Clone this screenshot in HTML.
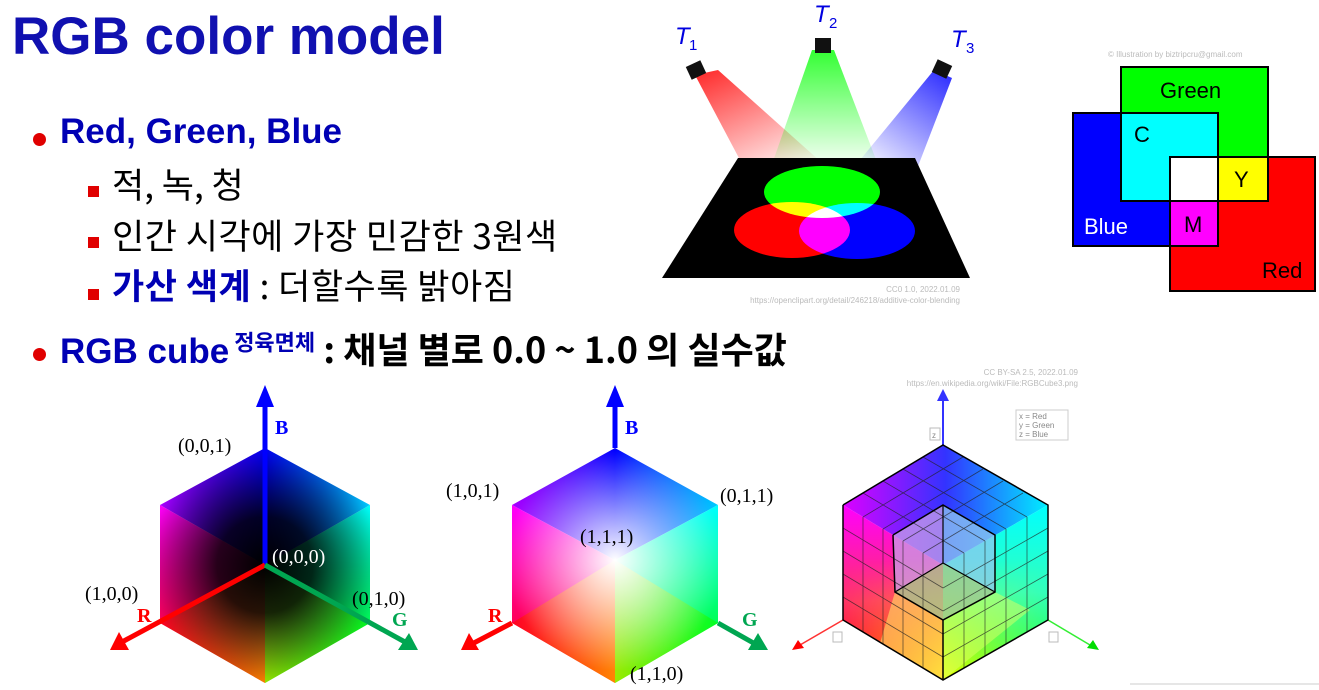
<!DOCTYPE html>
<html><head><meta charset="utf-8">
<style>
html,body{margin:0;padding:0;background:#fff;}
body{width:1319px;height:690px;position:relative;overflow:hidden;font-family:"Liberation Sans","Noto Sans CJK KR",sans-serif;}
.t{position:absolute;white-space:nowrap;}
.blue{color:#0000b4;font-weight:bold;}
.dot{position:absolute;width:13px;height:13px;border-radius:50%;background:#e00000;}
.sq{position:absolute;width:11px;height:11px;background:#e00000;}
.ko{font-family:"Noto Sans CJK KR",sans-serif;}
</style></head>
<body>
<div class="t blue" style="left:12px;top:6px;font-size:53px;color:#1010b0;">RGB color model</div>

<div class="dot" style="left:33px;top:133px"></div>
<div class="t blue" style="left:60px;top:112px;font-size:35px;">Red, Green, Blue</div>
<div class="sq" style="left:88px;top:186px"></div>
<div class="t ko" style="left:112px;top:158px;font-size:35px;">적, 녹, 청</div>
<div class="sq" style="left:88px;top:237px"></div>
<div class="t ko" style="left:112px;top:209px;font-size:35px;letter-spacing:0.5px;">인간 시각에 가장 민감한 3원색</div>
<div class="sq" style="left:88px;top:289px"></div>
<div class="t ko" style="left:112px;top:259px;font-size:35px;letter-spacing:0.5px;"><b style="color:#0000b4">가산 색계</b> : 더할수록 밝아짐</div>

<div class="dot" style="left:33px;top:348px"></div>
<div class="t" style="left:60px;top:322px;font-size:35px;font-weight:bold;"><span style="color:#0000b4">RGB cube</span><sup class="ko" style="color:#0000b4;font-size:22px;"> 정육면체</sup><span class="ko" style="font-size:36px;"> : 채널 별로 0.0 ~ 1.0 의 실수값</span></div>

<svg width="1319" height="690" style="position:absolute;left:0;top:0">
<defs>
 <linearGradient id="bR" x1="0" y1="0" x2="0.5" y2="1"><stop offset="0" stop-color="#f00"/><stop offset="1" stop-color="#f00" stop-opacity="0"/></linearGradient>
 <linearGradient id="bG" x1="0" y1="0" x2="0" y2="1"><stop offset="0" stop-color="#0f0"/><stop offset="1" stop-color="#0f0" stop-opacity="0"/></linearGradient>
 <linearGradient id="bB" x1="1" y1="0" x2="0.5" y2="1"><stop offset="0" stop-color="#00f"/><stop offset="1" stop-color="#00f" stop-opacity="0"/></linearGradient>
 <linearGradient id="c1top" x1="0" y1="0" x2="1" y2="0"><stop offset="0" stop-color="#a0f"/><stop offset="0.5" stop-color="#00f"/><stop offset="1" stop-color="#0cf"/></linearGradient>
 <radialGradient id="dark" cx="265" cy="565" r="120" gradientUnits="userSpaceOnUse"><stop offset="0" stop-color="#000"/><stop offset="0.4" stop-color="#000" stop-opacity="0.85"/><stop offset="1" stop-color="#000" stop-opacity="0"/></radialGradient>
 <linearGradient id="c1l" x1="0" y1="0" x2="0" y2="1"><stop offset="0" stop-color="#f0f"/><stop offset="1" stop-color="#f00"/></linearGradient>
 <linearGradient id="c1r" x1="0" y1="0" x2="0" y2="1"><stop offset="0" stop-color="#0ff"/><stop offset="1" stop-color="#0f0"/></linearGradient>
 <linearGradient id="c1b" x1="0" y1="0" x2="1" y2="0"><stop offset="0" stop-color="#f00"/><stop offset="0.5" stop-color="#fd0"/><stop offset="1" stop-color="#0f0"/></linearGradient>
 <radialGradient id="white" cx="615" cy="560" r="110" gradientUnits="userSpaceOnUse"><stop offset="0" stop-color="#fff"/><stop offset="0.3" stop-color="#fff" stop-opacity="0.7"/><stop offset="1" stop-color="#fff" stop-opacity="0"/></radialGradient>
 <linearGradient id="c3l" x1="0" y1="0" x2="0" y2="1"><stop offset="0" stop-color="#f0f"/><stop offset="0.55" stop-color="#f36"/><stop offset="1" stop-color="#f00"/></linearGradient>
 <linearGradient id="c3ly" x1="843" y1="0" x2="943" y2="0" gradientUnits="userSpaceOnUse"><stop offset="0" stop-color="#ff0" stop-opacity="0"/><stop offset="1" stop-color="#ff0" stop-opacity="1"/></linearGradient>
 <linearGradient id="c3r" x1="0" y1="0" x2="0" y2="1"><stop offset="0" stop-color="#0ff"/><stop offset="0.5" stop-color="#3fb"/><stop offset="1" stop-color="#2f2"/></linearGradient>
 <linearGradient id="c3ry" x1="943" y1="0" x2="1048" y2="0" gradientUnits="userSpaceOnUse"><stop offset="0" stop-color="#ff0" stop-opacity="1"/><stop offset="1" stop-color="#ff0" stop-opacity="0"/></linearGradient>
 <linearGradient id="c3t" x1="0" y1="0" x2="1" y2="0"><stop offset="0" stop-color="#d0f"/><stop offset="0.5" stop-color="#33f"/><stop offset="1" stop-color="#0ef"/></linearGradient>
 <linearGradient id="vy" x1="0" y1="0" x2="0" y2="1"><stop offset="0" stop-color="#fff" stop-opacity="0"/><stop offset="1" stop-color="#fff" stop-opacity="1"/></linearGradient>
 <mask id="lowmask"><rect x="800" y="560" width="300" height="130" fill="url(#vy)"/></mask>
</defs>

<!-- spotlights -->
<g>
 <polygon points="695,75 718,70 830,170 760,190 740,160" fill="url(#bR)" opacity="0.85"/>
 <polygon points="812,50 834,50 880,170 770,170" fill="url(#bG)" opacity="0.8"/>
 <polygon points="934,70 952,78 905,200 860,160" fill="url(#bB)" opacity="0.85"/>
 <polygon points="738,158 915,158 970,278 662,278" fill="#000"/>
 <g style="isolation:isolate">
  <ellipse cx="822" cy="192" rx="58" ry="26" fill="#0f0" style="mix-blend-mode:screen"/>
  <ellipse cx="792" cy="230" rx="58" ry="28" fill="#f00" style="mix-blend-mode:screen"/>
  <ellipse cx="857" cy="231" rx="58" ry="28" fill="#00f" style="mix-blend-mode:screen"/>
 </g>
 <rect x="688" y="63" width="16" height="14" fill="#111" transform="rotate(-25 696 70)"/>
 <rect x="815" y="38" width="16" height="15" fill="#111"/>
 <rect x="934" y="62" width="16" height="14" fill="#111" transform="rotate(25 942 69)"/>
 <text x="675" y="44" font-size="24" font-style="italic" fill="#0000e0" font-family="Liberation Sans,sans-serif">T</text><text x="689" y="50" font-size="15" fill="#0000e0">1</text>
 <text x="814" y="22" font-size="24" font-style="italic" fill="#0000e0" font-family="Liberation Sans,sans-serif">T</text><text x="829" y="28" font-size="15" fill="#0000e0">2</text>
 <text x="951" y="47" font-size="24" font-style="italic" fill="#0000e0" font-family="Liberation Sans,sans-serif">T</text><text x="966" y="53" font-size="15" fill="#0000e0">3</text>
 <text x="960" y="292" font-size="8" fill="#bbb" text-anchor="end">CC0 1.0, 2022.01.09</text>
 <text x="960" y="303" font-size="8" fill="#bbb" text-anchor="end">https://openclipart.org/detail/246218/additive-color-blending</text>
</g>

<!-- venn squares -->
<g stroke="#000" stroke-width="2">
 <text x="1108" y="57" font-size="8" fill="#bbb" stroke="none">© Illustration by biztripcru@gmail.com</text>
 <rect x="1121" y="67" width="147" height="134" fill="#0f0"/>
 <rect x="1073" y="113" width="145" height="133" fill="#00f"/>
 <rect x="1170" y="157" width="145" height="134" fill="#f00"/>
 <rect x="1121" y="113" width="97" height="88" fill="#0ff"/>
 <rect x="1170" y="157" width="48" height="44" fill="#fff"/>
 <rect x="1218" y="157" width="50" height="44" fill="#ff0"/>
 <rect x="1170" y="201" width="48" height="45" fill="#f0f"/>
 <g stroke="none" font-size="22" font-family="Liberation Sans,sans-serif">
  <text x="1160" y="98">Green</text>
  <text x="1134" y="142">C</text>
  <text x="1234" y="187">Y</text>
  <text x="1184" y="232">M</text>
  <text x="1084" y="234" fill="#fff">Blue</text>
  <text x="1262" y="278">Red</text>
 </g>
</g>

<!-- cube 1 -->
<g>
 <polygon points="265,448 370,505 265,565 160,505" fill="url(#c1top)"/>
 <polygon points="160,505 265,565 265,683 160,623" fill="url(#c1l)"/>
 <polygon points="265,565 370,505 370,623 265,683" fill="url(#c1r)"/>
 <polygon points="160,623 265,565 370,623 265,683" fill="url(#c1b)" opacity="0.6"/>
 <polygon points="265,448 370,505 370,623 265,683 160,623 160,505" fill="url(#dark)"/>
 <line x1="265" y1="565" x2="265" y2="405" stroke="#00f" stroke-width="5"/>
 <polygon points="265,385 256,407 274,407" fill="#00f"/>
 <line x1="265" y1="565" x2="122" y2="642" stroke="#f00" stroke-width="5"/>
 <polygon points="110,650 119,632 129,650" fill="#f00"/>
 <line x1="265" y1="565" x2="405" y2="642" stroke="#00a651" stroke-width="5"/>
 <polygon points="418,650 398,650 409,633" fill="#00a651"/>
 <g font-family="Liberation Serif,serif" font-size="20">
  <text x="178" y="452">(0,0,1)</text>
  <text x="272" y="563" fill="#fff">(0,0,0)</text>
  <text x="85" y="600">(1,0,0)</text>
  <text x="352" y="605">(0,1,0)</text>
  <text x="275" y="434" fill="#00f" font-weight="bold">B</text>
  <text x="137" y="622" fill="#f00" font-weight="bold">R</text>
  <text x="392" y="626" fill="#00a651" font-weight="bold">G</text>
 </g>
</g>

<!-- cube 2 -->
<g>
 <polygon points="615,448 718,505 615,560 512,505" fill="url(#c1top)"/>
 <polygon points="512,505 615,560 615,683 512,623" fill="url(#c1l)"/>
 <polygon points="615,560 718,505 718,623 615,683" fill="url(#c1r)"/>
 <polygon points="512,623 615,560 718,623 615,683" fill="url(#c1b)" opacity="0.6"/>
 <polygon points="615,448 718,505 718,623 615,683 512,623 512,505" fill="url(#white)"/>
 <line x1="615" y1="448" x2="615" y2="405" stroke="#00f" stroke-width="5"/>
 <polygon points="615,385 606,407 624,407" fill="#00f"/>
 <line x1="512" y1="623" x2="470" y2="645" stroke="#f00" stroke-width="5"/>
 <polygon points="461,650 469,633 479,650" fill="#f00"/>
 <line x1="718" y1="623" x2="757" y2="645" stroke="#00a651" stroke-width="5"/>
 <polygon points="768,650 748,650 758,633" fill="#00a651"/>
 <g font-family="Liberation Serif,serif" font-size="20">
  <text x="446" y="497">(1,0,1)</text>
  <text x="720" y="502">(0,1,1)</text>
  <text x="580" y="543">(1,1,1)</text>
  <text x="630" y="680">(1,1,0)</text>
  <text x="625" y="434" fill="#00f" font-weight="bold">B</text>
  <text x="488" y="622" fill="#f00" font-weight="bold">R</text>
  <text x="742" y="626" fill="#00a651" font-weight="bold">G</text>
 </g>
</g>

<!-- cube 3 -->
<g>
 <text x="1078" y="375" font-size="8" fill="#bbb" text-anchor="end">CC BY-SA 2.5, 2022.01.09</text>
 <text x="1078" y="386" font-size="8" fill="#bbb" text-anchor="end">https://en.wikipedia.org/wiki/File:RGBCube3.png</text>
 <line x1="943" y1="445" x2="943" y2="400" stroke="#33f" stroke-width="2"/>
 <polygon points="943,389 937,401 949,401" fill="#33f"/>
 <rect x="930" y="428" width="10" height="12" fill="#fff" stroke="#bbb"/><text x="932" y="438" font-size="8" fill="#888">z</text>
 <rect x="1016" y="410" width="52" height="30" fill="#fff" stroke="#ccc"/>
 <text x="1019" y="419" font-size="8" fill="#888">x = Red</text><text x="1019" y="428" font-size="8" fill="#888">y = Green</text><text x="1019" y="437" font-size="8" fill="#888">z = Blue</text>
 <line x1="843" y1="620" x2="800" y2="645" stroke="#f33" stroke-width="1.5"/>
 <polygon points="792,650 798,640 804,648" fill="#f00"/>
 <line x1="1048" y1="620" x2="1090" y2="645" stroke="#3e3" stroke-width="1.5"/>
 <polygon points="1099,650 1087,648 1093,640" fill="#0d0"/>
 <rect x="833" y="632" width="9" height="10" fill="#fff" stroke="#bbb"/>
 <rect x="1049" y="632" width="9" height="10" fill="#fff" stroke="#bbb"/>
 <polygon points="943,445 1048,505 943,565 843,505" fill="url(#c3t)"/>
 <polygon points="843,505 943,565 943,680 843,620" fill="url(#c3l)"/>
 <polygon points="843,505 943,565 943,680 843,620" fill="url(#c3ly)" mask="url(#lowmask)"/>
 <polygon points="943,565 1048,505 1048,620 943,680" fill="url(#c3r)"/>
 <polygon points="943,565 1048,505 1048,620 943,680" fill="url(#c3ry)" mask="url(#lowmask)"/>
 <!-- notch inner walls -->
 <polygon points="893,535 943,505 943,563 895,592" fill="#c8a0e8" opacity="0.75"/>
 <polygon points="943,505 995,535 995,592 943,563" fill="#90c8f0" opacity="0.75"/>
 <polygon points="895,592 943,563 995,592 943,620" fill="#a8c890" opacity="0.8"/>
 <polygon points="895,592 943,620 943,680 880,643" fill="#fd6" opacity="0.6"/>
 <polygon points="943,620 995,592 1030,610 943,680" fill="#df6" opacity="0.5"/>
 <g id="grid3" stroke="#222" stroke-width="0.8" fill="none" opacity="0.7"></g>
 <polyline points="843,505 943,445 1048,505 1048,620 943,680 843,620 843,505" fill="none" stroke="#000" stroke-width="1.5"/>
 <polyline points="893,535 943,505 995,535 995,592 943,620 895,592 893,535" fill="none" stroke="#000" stroke-width="1.5"/>
 <line x1="943" y1="505" x2="943" y2="563" stroke="#000" stroke-width="1.2"/>
 <line x1="943" y1="563" x2="895" y2="592" stroke="#000" stroke-width="1.2"/>
 <line x1="943" y1="563" x2="995" y2="592" stroke="#000" stroke-width="1.2"/>
 <line x1="943" y1="620" x2="943" y2="680" stroke="#000" stroke-width="1.5"/>
</g>
<line x1="1130" y1="684" x2="1319" y2="684" stroke="#ccc"/>
</svg>
<script>
var g=document.getElementById('grid3');
function L(x1,y1,x2,y2){var l=document.createElementNS('http://www.w3.org/2000/svg','line');l.setAttribute('x1',x1);l.setAttribute('y1',y1);l.setAttribute('x2',x2);l.setAttribute('y2',y2);


g.appendChild(l);}
for(var i=1;i<5;i++){var f=i/5;
 L(843+100*f,505+60*f,843+100*f,620+60*f);
 L(843,505+115*f,943,565+115*f);
 L(943+105*f,565-60*f,943+105*f,680-60*f);
 L(943,565+115*f,1048,505+115*f);
 L(843+100*f,505-60*f,943+105*f,565-60*f);
 L(843+100*f,505+60*f,943+100*f,445+60*f);
}
</script>
</body></html>
